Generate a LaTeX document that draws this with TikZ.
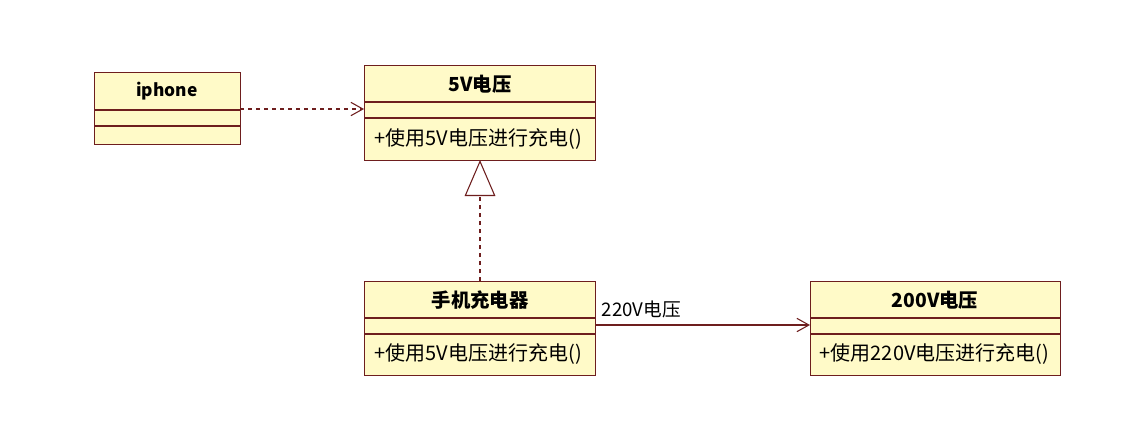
\documentclass[tikz,border=0pt]{standalone}
\usepackage{fontspec}
\setmainfont{Noto Sans CJK SC}
\usetikzlibrary{arrows.meta}
\definecolor{bd}{RGB}{110,30,30}
\definecolor{fl}{RGB}{255,250,200}
\begin{document}
\begin{tikzpicture}[x=0.75pt,y=-0.75pt,
  cls/.style={draw=bd,fill=fl,line width=0.9pt,anchor=north west,inner sep=0pt},
  sep/.style={draw=bd,line width=0.8pt},
  ttl/.style={font=\bfseries\fontsize{14.5}{16}\selectfont},
  mth/.style={font=\fontsize{15}{16}\selectfont,anchor=west},
  lnk/.style={draw=bd,line width=0.8pt}]
\useasboundingbox (0,0) rectangle (1130,426);
% iphone
\node[cls,minimum width=146*0.75pt,minimum height=72*0.75pt] (ip) at (94,72) {};
\draw[sep] (94,110) -- (240,110); \draw[sep] (94,126) -- (240,126);
\node[ttl,font=\bfseries\fontsize{13}{15}\selectfont] (ipt) at (167,91) {iphone};
% 5V
\node[cls,minimum width=231*0.75pt,minimum height=95*0.75pt] (fv) at (364,65) {};
\draw[sep] (364,102) -- (595,102); \draw[sep] (364,118) -- (595,118);
\node[ttl] (fvt) at (480,84) {5V电压};
\node[mth] (fvm) at (370,139) {+使用5V电压进行充电()};
% charger
\node[cls,minimum width=231*0.75pt,minimum height=94*0.75pt] (ch) at (364,281) {};
\draw[sep] (364,318) -- (595,318); \draw[sep] (364,334) -- (595,334);
\node[ttl] (cht) at (480,300) {手机充电器};
\node[mth] (chm) at (370,354) {+使用5V电压进行充电()};
% 200V
\node[cls,minimum width=250*0.75pt,minimum height=94*0.75pt] (tv) at (810,281) {};
\draw[sep] (810,318) -- (1060,318); \draw[sep] (810,334) -- (1060,334);
\node[ttl] (tvt) at (935,300) {200V电压};
\node[mth] (tvm) at (815,354) {+使用220V电压进行充电()};
% links
\coordinate (a1) at (240,109); \coordinate (a2) at (364,109);
\draw[lnk,dashed,-{Straight Barb[length=9pt,width=10pt]}] (a1) -- (a2);
\coordinate (b1) at (480,281); \coordinate (b2) at (480,160);
\draw[lnk,dashed,-{Triangle[open,length=27pt,width=23pt,fill=white]}] (b1) -- (b2);
\coordinate (c1) at (595,325); \coordinate (c2) at (810,325);
\draw[lnk,-{Straight Barb[length=9pt,width=10pt]}] (c1) -- (c2);
\node[font=\fontsize{14}{16}\selectfont,anchor=west] (lb) at (597,309) {220V电压};
\end{tikzpicture}
\end{document}
